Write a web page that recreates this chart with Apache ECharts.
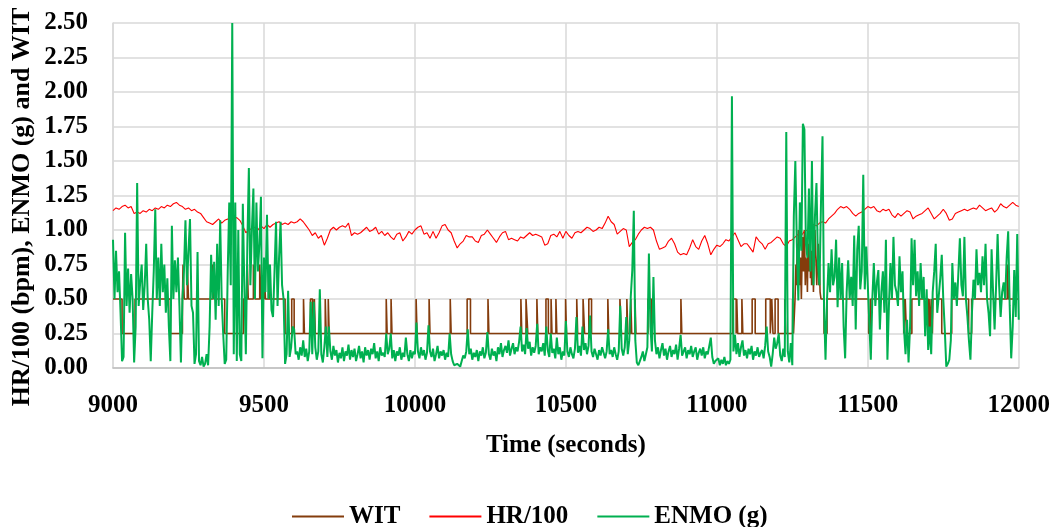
<!DOCTYPE html>
<html>
<head>
<meta charset="utf-8">
<script src="https://cdn.jsdelivr.net/npm/echarts@6/dist/echarts.min.js"></script>
<style>
html,body{margin:0;padding:0;background:#fff;}
#chart{width:1053px;height:527px;}
</style>
</head>
<body>
<div id="chart"></div>
<script>
// ---- Data ----
const xTicks = [9000, 9500, 10000, 10500, 11000, 11500, 12000];
const seriesNames = ['WIT', 'HR/100', 'ENMO (g)'];
const xTitle = 'Time (seconds)';
const yTitle = 'HR/100 (bpm), ENMO (g) and WIT';

// WIT: step signal, each value holds from its time until the next time
const witTimes = [9000,9030,9073,9190,9230,9232,9236,9246,9250,9330,9334,9370,9432,9445,9448,9465,9470,9486,9490,9500,9505,9515,9518,9570,
9592,9600,9631,9634,9654,9661,9667,9670,9703,9706,9713,9716,9905,9908,9921,9924,10004,10007,10047,10050,10117,10120,10173,10184,
10242,10245,10351,10354,10368,10374,10404,10407,10434,10442,10451,10454,10467,10470,10499,10502,10536,10539,10557,10562,10576,10585,
10639,10642,10679,10684,10702,10705,10715,10718,10729,10732,10772,10783,10881,10884,11053,11064,11066,11069,11083,11086,11117,11127,
11162,11177,11182,11186,11193,11203,11225,11228,11251,11254,11259,11262,11264,11266,11268,11270,11272,11275,11277,11280,11282,11284,
11287,11290,11293,11295,11298,11300,11302,11304,11306,11308,11310,11312,11314,11316,11318,11320,11322,11325,11328,11331,11333,11336,
11338,11340,11342,11345,11355,11365,11503,11510,11619,11624,11628,11646,11700,11703,11706,11710,11714,11716,11745,11778,11834,11844,
11962,11966,12000];
const witValues = [0.5,0.25,0.5,0.25,0.5,0.75,0.5,0.75,0.5,0.75,0.5,0.25,0.5,0.75,0.5,0.75,0.5,0.75,0.5,0.75,0.5,0.75,0.5,0.25,
0.5,0.25,0.5,0.25,0.5,0.25,0.5,0.25,0.5,0.25,0.5,0.25,0.5,0.25,0.5,0.25,0.5,0.25,0.5,0.25,0.5,0.25,0.5,0.25,
0.5,0.25,0.5,0.25,0.5,0.25,0.5,0.25,0.5,0.25,0.5,0.25,0.5,0.25,0.5,0.25,0.5,0.25,0.5,0.25,0.5,0.25,
0.5,0.25,0.5,0.25,0.5,0.25,0.5,0.25,0.5,0.25,0.5,0.25,0.5,0.25,0.5,0.25,0.5,0.25,0.5,0.25,0.5,0.25,
0.5,0.25,0.5,0.25,0.5,0.25,0.5,0.25,0.5,0.25,0.5,0.75,0.6,0.9,0.75,1.0,0.75,0.6,0.8,0.5,0.75,0.95,
0.7,1.0,0.6,0.8,0.75,0.55,0.9,0.7,0.75,1.0,0.65,0.85,0.6,0.75,0.9,0.55,0.75,1.0,0.8,0.6,0.75,0.9,
0.6,0.75,0.55,0.5,0.25,0.5,0.25,0.5,0.25,0.5,0.25,0.5,0.25,0.5,0.25,0.5,0.25,0.5,0.25,0.5,0.25,0.5,
0.75,0.5,0.5];

// HR/100 sampled every 10 s from 9000 to 12000
const hrStart = 9000, hrStep = 10;
const hrValues = [
1.14,1.16,1.15,1.17,1.18,1.16,1.17,1.12,1.13,1.12,
1.14,1.13,1.15,1.14,1.16,1.15,1.17,1.16,1.18,1.17,
1.19,1.20,1.18,1.17,1.15,1.16,1.14,1.15,1.13,1.12,
1.09,1.06,1.05,1.04,1.06,1.08,1.05,1.07,1.08,1.07,
1.08,1.09,1.07,1.03,0.98,1.00,1.01,1.02,1.00,1.03,
1.01,1.04,1.02,1.04,1.05,1.06,1.04,1.05,1.04,1.06,
1.05,1.06,1.08,1.06,1.03,1.00,0.96,0.98,0.94,0.96,
0.89,0.94,1.00,1.02,1.00,1.02,1.03,1.02,1.05,0.96,
0.98,0.97,0.98,1.00,1.02,0.99,1.00,1.02,0.97,0.99,
0.96,0.98,0.95,0.93,0.97,0.98,0.92,0.95,0.99,0.97,
1.00,1.02,1.03,0.97,0.98,0.94,0.99,0.94,0.98,1.03,
1.04,1.00,0.98,0.92,0.87,0.90,0.92,0.96,0.95,0.95,
0.92,0.91,0.96,0.97,1.00,0.97,0.94,0.91,0.95,0.98,
0.99,0.93,0.94,0.93,0.92,0.95,0.94,0.96,0.98,0.96,
0.97,0.96,0.95,0.89,0.90,0.96,0.97,0.95,0.99,0.94,
0.99,0.96,0.94,0.98,0.99,0.98,1.00,1.02,1.01,0.99,
1.00,1.02,1.01,1.05,1.10,1.06,1.04,0.97,0.99,1.01,
1.00,0.88,0.91,0.93,0.97,1.00,1.02,1.01,1.02,1.00,
0.92,0.86,0.87,0.88,0.92,0.94,0.90,0.84,0.82,0.83,
0.82,0.87,0.93,0.88,0.86,0.92,0.96,0.90,0.82,0.86,
0.89,0.88,0.90,0.93,0.92,0.95,0.98,0.93,0.88,0.90,
0.90,0.87,0.84,0.95,0.92,0.90,0.86,0.90,0.91,0.93,
0.95,0.94,0.90,0.88,0.92,0.93,0.95,0.97,0.96,0.99,
1.00,1.02,1.04,1.03,1.05,1.06,1.05,1.08,1.10,1.12,
1.15,1.17,1.16,1.17,1.15,1.12,1.10,1.12,1.13,1.15,
1.17,1.16,1.17,1.14,1.13,1.15,1.14,1.15,1.11,1.09,
1.12,1.10,1.12,1.14,1.13,1.08,1.10,1.11,1.12,1.14,
1.16,1.12,1.08,1.10,1.12,1.15,1.12,1.07,1.08,1.12,
1.13,1.14,1.15,1.14,1.15,1.16,1.15,1.18,1.16,1.14,
1.15,1.16,1.13,1.15,1.19,1.17,1.16,1.18,1.20,1.18,
1.17];

// ENMO (g) sampled every 5 s from 9000 to 12000
const enmoStart = 9000, enmoStep = 5;
const enmoValues = [
0.93,0.50,0.85,0.55,0.70,0.40,0.05,0.08,0.98,0.45,
0.72,0.40,0.68,0.50,0.04,0.30,1.34,0.45,0.62,0.75,
0.42,0.60,0.90,0.50,0.35,0.05,0.40,0.70,1.15,0.50,
0.80,0.45,0.90,0.55,0.75,0.40,0.65,0.30,0.05,1.03,
0.50,0.78,0.55,0.80,0.45,0.04,0.50,0.70,1.07,0.60,
0.85,1.08,0.45,0.40,0.03,0.10,0.84,0.05,0.02,0.08,
0.01,0.03,0.10,0.02,0.30,0.82,0.50,0.77,0.35,0.90,
0.45,1.07,0.50,0.25,0.03,0.06,0.70,1.20,0.60,2.50,
0.10,1.20,0.05,1.00,0.10,0.05,1.19,0.60,0.10,0.90,
1.45,0.60,1.00,1.30,0.50,1.20,0.70,0.90,1.24,0.07,
0.80,0.55,1.11,0.50,0.75,0.42,0.37,0.70,1.06,0.45,
0.80,1.06,0.60,0.50,0.03,0.10,0.56,0.08,0.15,0.30,
0.28,0.10,0.12,0.06,0.15,0.09,0.20,0.08,0.14,0.05,
0.12,0.48,0.10,0.48,0.15,0.06,0.12,0.57,0.10,0.04,
0.15,0.30,0.08,0.30,0.12,0.06,0.16,0.09,0.13,0.04,
0.11,0.07,0.15,0.05,0.12,0.09,0.17,0.06,0.13,0.08,
0.14,0.05,0.10,0.16,0.07,0.12,0.04,0.15,0.09,0.13,
0.06,0.14,0.10,0.18,0.07,0.12,0.05,0.15,0.09,0.11,
0.08,0.25,0.10,0.14,0.25,0.07,0.13,0.05,0.12,0.09,
0.15,0.06,0.11,0.08,0.22,0.10,0.05,0.13,0.07,0.12,
0.10,0.33,0.12,0.07,0.15,0.09,0.13,0.06,0.11,0.31,
0.12,0.08,0.14,0.05,0.10,0.16,0.07,0.12,0.09,0.13,
0.06,0.11,0.08,0.25,0.10,0.05,0.02,0.01,0.03,0.02,
0.01,0.05,0.09,0.07,0.12,0.28,0.10,0.14,0.06,0.11,
0.08,0.13,0.05,0.12,0.09,0.15,0.07,0.11,0.26,0.10,
0.06,0.14,0.09,0.12,0.05,0.15,0.10,0.18,0.08,0.13,
0.16,0.11,0.20,0.09,0.14,0.18,0.10,0.15,0.12,0.19,
0.30,0.12,0.17,0.10,0.29,0.14,0.19,0.09,0.15,0.11,
0.16,0.32,0.10,0.15,0.12,0.18,0.09,0.30,0.13,0.08,
0.25,0.11,0.14,0.07,0.22,0.10,0.15,0.06,0.12,0.09,
0.34,0.12,0.08,0.15,0.10,0.07,0.14,0.37,0.11,0.16,
0.09,0.30,0.13,0.18,0.10,0.16,0.38,0.12,0.08,0.14,
0.10,0.06,0.13,0.09,0.15,0.11,0.07,0.12,0.28,0.10,
0.13,0.08,0.15,0.10,0.06,0.12,0.45,0.14,0.09,0.15,
0.37,0.10,0.20,0.52,0.71,1.14,0.20,0.04,0.02,0.05,
0.08,0.12,0.05,0.10,0.15,0.83,0.30,0.12,0.66,0.20,
0.10,0.15,0.07,0.13,0.18,0.09,0.14,0.06,0.12,0.16,
0.08,0.13,0.10,0.17,0.06,0.14,0.24,0.09,0.12,0.15,
0.07,0.13,0.10,0.16,0.08,0.12,0.15,0.06,0.11,0.14,
0.09,0.15,0.07,0.12,0.10,0.16,0.22,0.08,0.03,0.05,
0.04,0.07,0.02,0.06,0.03,0.08,0.02,0.05,0.03,0.06,
1.97,0.12,0.24,0.10,0.18,0.08,0.15,0.20,0.09,0.13,
0.07,0.14,0.10,0.16,0.06,0.12,0.09,0.15,0.08,0.11,
0.13,0.07,0.16,0.30,0.12,0.08,0.01,0.10,0.22,0.14,
0.18,0.25,0.09,0.05,0.14,0.08,1.71,0.12,0.04,0.18,
0.02,1.10,1.50,0.90,0.49,1.20,0.85,1.77,1.73,0.90,
0.80,1.30,0.70,1.50,0.60,1.10,1.34,0.75,0.60,1.20,
1.68,0.45,0.06,0.50,0.76,0.55,0.86,0.60,0.66,0.93,
0.44,0.80,0.50,0.76,0.30,0.07,0.55,0.78,0.50,0.66,
0.45,0.96,0.28,0.86,1.03,0.57,0.70,1.40,0.57,0.88,
0.60,0.33,0.06,0.50,0.76,0.45,0.62,0.71,0.28,0.55,
0.70,0.40,0.93,0.06,0.45,0.76,0.50,0.95,0.60,0.55,
0.45,0.81,0.55,0.70,0.28,0.10,0.35,0.04,0.30,0.94,
0.60,0.93,0.52,0.70,0.45,0.76,0.50,0.66,0.23,0.57,
0.13,0.30,0.10,0.55,0.70,0.90,0.40,0.52,0.65,0.82,
0.50,0.28,0.01,0.03,0.06,0.20,0.76,0.50,0.62,0.45,
0.69,0.94,0.60,0.52,0.95,0.50,0.37,0.20,0.06,0.40,
0.64,0.50,0.86,0.60,0.69,0.55,0.81,0.60,0.90,0.50,
0.40,0.23,0.86,0.55,0.28,0.60,0.97,0.60,0.37,0.55,
0.62,0.50,0.80,0.99,0.45,0.07,0.30,0.71,0.37,0.97,
0.35];

// ---- Build series data ----
const witData = witTimes.map((t, i) => [t, witValues[i]]);
const hrData = hrValues.map((v, i) => [hrStart + i * hrStep, v]);
const enmoData = enmoValues.map((v, i) => [enmoStart + i * enmoStep, v]);

const FONT = '"Liberation Serif", "DejaVu Serif", serif';
const FS = 25;
const chart = echarts.init(document.getElementById('chart'), null, {renderer: 'canvas'});
chart.setOption({
  animation: false,
  backgroundColor: '#ffffff',
  grid: {left: 113, right: 33, top: 23, bottom: 159},
  legend: {
    data: seriesNames,
    top: 499,
    left: 287,
    icon: 'rect',
    itemWidth: 52,
    itemHeight: 2,
    itemGap: 29,
    textStyle: {fontFamily: FONT, fontWeight: 'bold', fontSize: FS, color: '#000'}
  },
  graphic: [{
    type: 'text',
    x: 22, y: 207,
    rotation: Math.PI / 2,
    style: {
      text: yTitle,
      fontFamily: FONT, fontWeight: 'bold', fontSize: 26, fill: '#000',
      textAlign: 'center', textVerticalAlign: 'middle'
    }
  }],
  xAxis: {
    type: 'value',
    min: xTicks[0],
    max: xTicks[xTicks.length - 1],
    interval: 500,
    name: xTitle,
    nameLocation: 'middle',
    nameGap: 65,
    nameTextStyle: {fontFamily: FONT, fontWeight: 'bold', fontSize: FS, color: '#000'},
    axisLine: {show: true, lineStyle: {color: '#BFBFBF', width: 1.5}},
    axisTick: {show: false},
    axisLabel: {fontFamily: FONT, fontWeight: 'bold', fontSize: FS, color: '#000', margin: 25,
      formatter: v => String(v)},
    splitLine: {show: true, lineStyle: {color: '#D9D9D9', width: 1.5}}
  },
  yAxis: {
    type: 'value',
    min: 0,
    max: 2.5,
    interval: 0.25,
    axisLine: {show: true, lineStyle: {color: '#D9D9D9', width: 1.5}},
    axisTick: {show: false},
    axisLabel: {fontFamily: FONT, fontWeight: 'bold', fontSize: FS, color: '#000', margin: 25,
      formatter: v => v.toFixed(2)},
    splitLine: {show: true, lineStyle: {color: '#D9D9D9', width: 1.5}}
  },
  series: [
    {name: seriesNames[0], type: 'line', step: 'end', data: witData, showSymbol: false, symbol: 'none',
     color: '#843C0C', lineStyle: {color: '#843C0C', width: 1.6}, z: 2},
    {name: seriesNames[1], type: 'line', data: hrData, showSymbol: false, symbol: 'none',
     color: '#FF0000', lineStyle: {color: '#FF0000', width: 1.1}, z: 3},
    {name: seriesNames[2], type: 'line', data: enmoData, showSymbol: false, symbol: 'none',
     color: '#00B050', lineStyle: {color: '#00B050', width: 2}, z: 4}
  ]
});
</script>
</body>
</html>
